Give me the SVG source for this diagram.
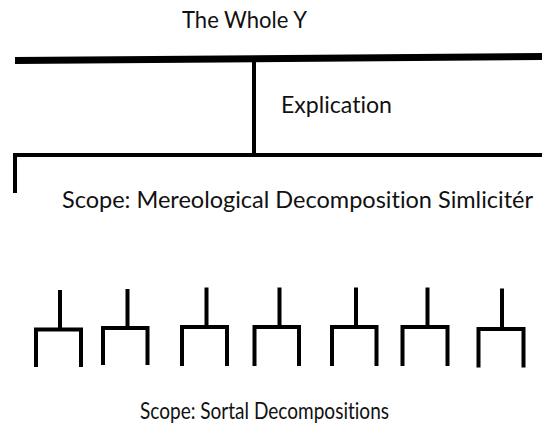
<svg xmlns="http://www.w3.org/2000/svg" width="542" height="425" viewBox="0 0 542 425">
  <style>
    .lbl { font-family: Lato, "Open Sans", "Liberation Sans", sans-serif; font-size: 23px; fill: #111; font-variant-ligatures: none; }
    .edge { stroke: #000; fill: none; stroke-linecap: butt; stroke-linejoin: miter; }
    .fork { stroke: #000; fill: none; stroke-width: 4; stroke-linejoin: miter; }
  </style>

  <rect width="542" height="425" fill="#fff"/>

  <g id="connectors">
    <line class="edge" x1="15" y1="60.5" x2="542" y2="56.5" stroke-width="7"/>
    <line class="edge" x1="254" y1="59" x2="254" y2="155" stroke-width="4"/>
    <polyline class="edge" points="15,193 15,155 542,155" stroke-width="4"/>
  </g>

  <g id="whole">
    <text class="lbl" x="182" y="28" textLength="125" lengthAdjust="spacingAndGlyphs">The Whole Y</text>
  </g>
  <g id="explication">
    <text class="lbl" x="281" y="113" textLength="111" lengthAdjust="spacingAndGlyphs">Explication</text>
  </g>
  <g id="mereological">
    <text class="lbl" x="62" y="208" textLength="471" lengthAdjust="spacingAndGlyphs">Scope: Mereological Decomposition Simlicitér</text>
  </g>

  <!-- seven small branching forks: stem on top, two legs below -->
  <g id="forks">
    <g id="fork1"><path class="fork" d="M60,290 V329.5 M36,367 V329.5 H81 V367"/></g>
    <g id="fork2"><path class="fork" d="M127.5,289 V328 M103,365 V328 H147.5 V365"/></g>
    <g id="fork3"><path class="fork" d="M206.5,287.5 V327 M182,366 V327 H227 V366"/></g>
    <g id="fork4"><path class="fork" d="M279.5,287.5 V327 M254.5,366 V327 H299 V366"/></g>
    <g id="fork5"><path class="fork" d="M356,287.5 V327 M332,366 V327 H376.5 V366"/></g>
    <g id="fork6"><path class="fork" d="M427.5,287.5 V327 M402.5,366 V327 H447.5 V366"/></g>
    <g id="fork7"><path class="fork" d="M502,288.5 V329 M478.5,367.5 V329 H523.5 V367.5"/></g>
  </g>

  <g id="sortal">
    <text class="lbl" x="140" y="419" textLength="249" lengthAdjust="spacingAndGlyphs">Scope: Sortal Decompositions</text>
  </g>
</svg>
